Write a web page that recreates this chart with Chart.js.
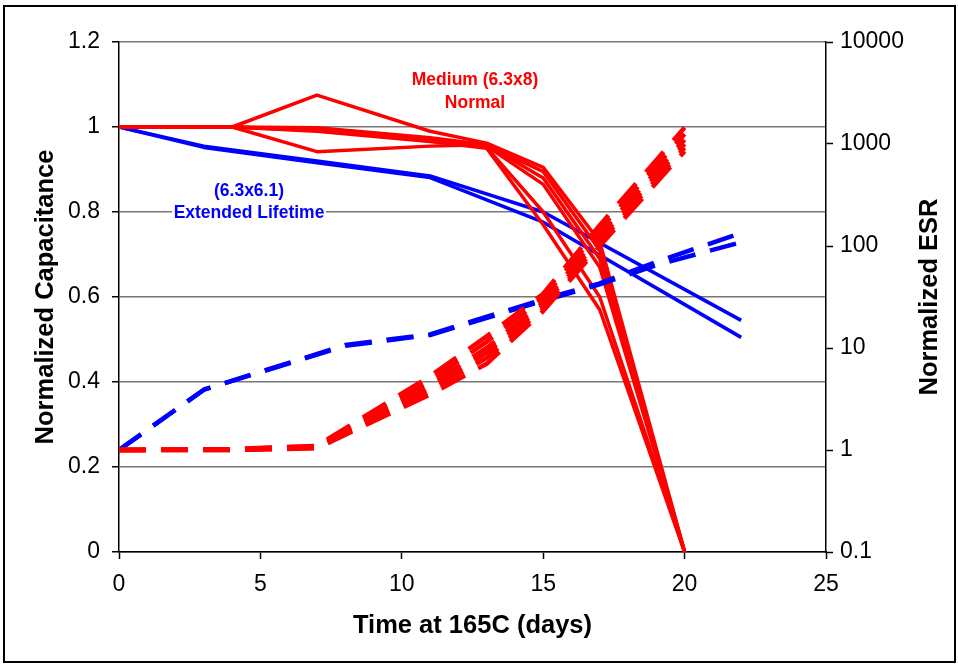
<!DOCTYPE html>
<html><head><meta charset="utf-8">
<script src="https://cdn.jsdelivr.net/npm/chart.js@4/dist/chart.umd.min.js"></script>
<style>html,body{margin:0;padding:0;background:#fff}#wrap{width:958px;height:665px;position:relative}</style>
</head><body><div id="wrap"><canvas id="c" width="958" height="665"></canvas></div>
<script>
// ---- Data ----
// Normalized capacitance, Medium (6.3x8) Normal parts (red, solid)
const redCapDays = [0, 4, 7, 11, 13, 15, 17, 20];
const redCap1 = [1.0, 1.0, 1.075, 0.99, 0.962, 0.905, 0.73, 0];
const redCap2 = [1.0, 1.0, 0.942, 0.955, 0.958, 0.895, 0.71, 0];
const redCap3 = [1.0, 1.0, 0.998, 0.975, 0.958, 0.88, 0.69, 0];
const redCap4 = [1.0, 1.0, 0.994, 0.972, 0.955, 0.865, 0.67, 0];
const redCap5 = [1.0, 1.0, 0.992, 0.968, 0.952, 0.80, 0.60, 0];
const redCap6 = [1.0, 1.0, 0.99, 0.966, 0.95, 0.77, 0.57, 0];

// Normalized ESR, Medium (6.3x8) Normal parts (red, dashed)
const redEsrDays = [0, 4, 7, 11, 13, 15, 17, 20];
const redEsr1 = [1, 1.02, 1.1, 5.3, 13, 34, 160, 1450];
const redEsr2 = [1, 1.02, 1.09, 4.8, 11.5, 31, 145, 1250];
const redEsr3 = [1, 1.01, 1.07, 4.4, 10, 28, 130, 1100];
const redEsr4 = [1, 1.01, 1.06, 4.1, 9, 26, 118, 1000];
const redEsr5 = [1, 1.0, 1.05, 3.8, 8, 24, 108, 920];
const redEsr6 = [1, 1.0, 1.04, 3.5, 7, 23, 100, 850];

// Normalized capacitance, (6.3x6.1) Extended Lifetime parts (blue, solid)
const blueCapDays = [0, 3, 7, 11, 15, 22];
const blueCap1 = [1.0, 0.955, 0.92, 0.885, 0.80, 0.545];
const blueCap2 = [1.0, 0.952, 0.916, 0.881, 0.776, 0.505];

// Normalized ESR, (6.3x6.1) Extended Lifetime parts (blue, dashed)
const blueEsrDays = [0, 3, 8, 11, 15, 17, 19, 22];
const blueEsr1 = [1, 3.9, 10.7, 13.6, 30, 43, 70, 134];
const blueEsr2 = [1, 3.9, 10.5, 13.4, 29, 42, 65, 109];

// Axis ticks
const xTicks = [0, 5, 10, 15, 20, 25];
const capTicks = [0, 0.2, 0.4, 0.6, 0.8, 1, 1.2];
const capTickLabels = ['0', '0.2', '0.4', '0.6', '0.8', '1', '1.2'];
const esrTicks = [0.1, 1, 10, 100, 1000, 10000];
const esrTickLabels = ['0.1', '1', '10', '100', '1000', '10000'];

// ---- Helpers ----
const RED = '#FF0000', BLUE = '#0000FF';
const FONT = '"Liberation Sans", Arial, sans-serif';
function pts(days, vals) { return days.map((d, i) => ({ x: d, y: vals[i] })); }
function solid(days, vals, color) {
  return { data: pts(days, vals), yAxisID: 'y', borderColor: color, borderWidth: 3.5,
           pointRadius: 0, tension: 0, fill: false, borderJoinStyle: 'round' };
}
function dashed(days, vals, color) {
  return { data: pts(days, vals), yAxisID: 'y2', borderColor: color, borderWidth: 4.5,
           borderDash: [27, 15], pointRadius: 0, tension: 0, fill: false, borderJoinStyle: 'round' };
}

const datasets = [
  dashed(redEsrDays, redEsr1, RED), dashed(redEsrDays, redEsr2, RED), dashed(redEsrDays, redEsr3, RED),
  dashed(redEsrDays, redEsr4, RED), dashed(redEsrDays, redEsr5, RED), dashed(redEsrDays, redEsr6, RED),
  dashed(blueEsrDays, blueEsr1, BLUE), dashed(blueEsrDays, blueEsr2, BLUE),
  solid(redCapDays, redCap1, RED), solid(redCapDays, redCap2, RED), solid(redCapDays, redCap3, RED),
  solid(redCapDays, redCap4, RED), solid(redCapDays, redCap5, RED), solid(redCapDays, redCap6, RED),
  solid(blueCapDays, blueCap1, BLUE), solid(blueCapDays, blueCap2, BLUE)
];

const decor = {
  id: 'decor',
  beforeDraw(chart) {
    const ctx = chart.ctx;
    ctx.save(); ctx.fillStyle = '#fff'; ctx.fillRect(0, 0, chart.width, chart.height); ctx.restore();
  },
  afterDraw(chart) {
    const ctx = chart.ctx, a = chart.chartArea;
    ctx.save();
    // annotation: Extended Lifetime (with white box hiding the gridline)
    ctx.fillStyle = '#fff';
    ctx.fillRect(172, 180, 154, 42);
    ctx.font = 'bold 17.5px ' + FONT;
    ctx.textAlign = 'center'; ctx.textBaseline = 'middle';
    ctx.fillStyle = BLUE;
    ctx.fillText('(6.3x6.1)', 249, 191);
    ctx.fillText('Extended Lifetime', 249, 213);
    ctx.fillStyle = RED;
    ctx.fillText('Medium (6.3x8)', 475, 80);
    ctx.fillText('Normal', 475, 103);
    // axis titles
    ctx.fillStyle = '#000';
    ctx.font = 'bold 25.5px ' + FONT;
    ctx.fillText('Time at 165C (days)', (a.left + a.right) / 2, 626);
    const cy = (a.top + a.bottom) / 2;
    ctx.save(); ctx.translate(46, cy); ctx.rotate(-Math.PI / 2); ctx.fillText('Normalized Capacitance', 0, 0); ctx.restore();
    ctx.save(); ctx.translate(930, cy); ctx.rotate(-Math.PI / 2); ctx.fillText('Normalized ESR', 0, 0); ctx.restore();
    // outer frame
    ctx.strokeStyle = '#000'; ctx.lineWidth = 2;
    ctx.strokeRect(4, 6, 951, 656);
    ctx.restore();
  }
};

new Chart(document.getElementById('c'), {
  type: 'line',
  data: { datasets },
  plugins: [decor],
  options: {
    responsive: false, animation: false, devicePixelRatio: 1,
    layout: { padding: { top: 42, left: 0, right: 0, bottom: 0 }, autoPadding: false },
    plugins: { legend: { display: false }, tooltip: { enabled: false } },
    scales: {
      x: {
        type: 'linear', min: 0, max: 25,
        afterFit: s => { s.height = 113; },
        afterBuildTicks: s => { s.ticks = xTicks.map(v => ({ value: v })); },
        ticks: { font: { family: FONT, size: 23 }, color: '#000', padding: 12, maxRotation: 0 },
        grid: { drawOnChartArea: false, drawTicks: true, tickLength: 7, tickColor: '#000', tickWidth: 1.5 },
        border: { color: '#000', width: 1.5 }
      },
      y: {
        position: 'left', min: 0, max: 1.2,
        afterFit: s => { s.width = 119; },
        afterBuildTicks: s => { s.ticks = capTicks.map(v => ({ value: v })); },
        ticks: { font: { family: FONT, size: 23 }, color: '#000', padding: 12,
                 callback: (v) => capTickLabels[capTicks.findIndex(t => Math.abs(t - v) < 1e-9)] ?? '' },
        grid: { color: '#777', lineWidth: 1.5, drawTicks: true, tickLength: 7, tickColor: '#000', tickWidth: 1.5 },
        border: { color: '#000', width: 1.5 }
      },
      y2: {
        type: 'logarithmic', position: 'right', min: 0.1, max: 10000,
        afterFit: s => { s.width = 132; },
        afterBuildTicks: s => { s.ticks = esrTicks.map(v => ({ value: v })); },
        ticks: { font: { family: FONT, size: 23 }, color: '#000', padding: 7,
                 callback: (v) => esrTickLabels[esrTicks.indexOf(v)] ?? '' },
        grid: { drawOnChartArea: false, drawTicks: true, tickLength: 7, tickColor: '#000', tickWidth: 1.5 },
        border: { color: '#000', width: 1.5 }
      }
    }
  }
});
</script></body></html>
